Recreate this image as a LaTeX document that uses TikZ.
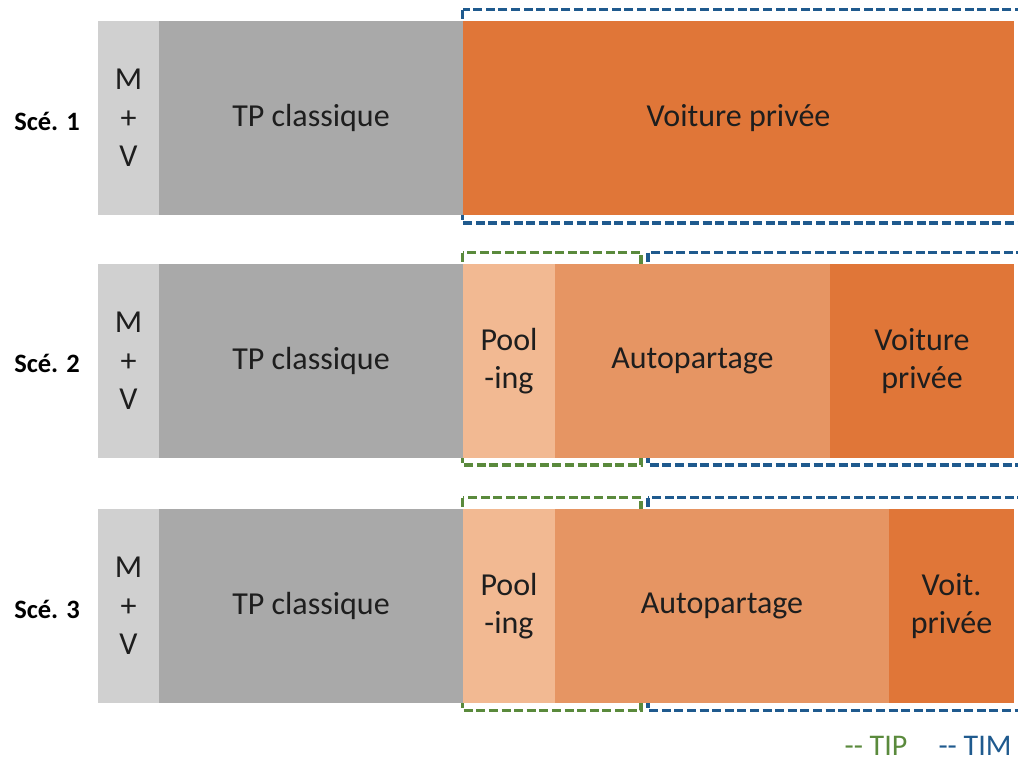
\documentclass[tikz,border=0pt]{standalone}
\usepackage{fontspec}
\setmainfont{Carlito}
\definecolor{mvgrey}{HTML}{D0D0D0}
\definecolor{tpgrey}{HTML}{A9A9A9}
\definecolor{vporange}{HTML}{E07638}
\definecolor{aporange}{HTML}{E69563}
\definecolor{poolorange}{HTML}{F2B992}
\definecolor{timblue}{HTML}{1F5A8E}
\definecolor{tipgreen}{HTML}{5A8A3C}
\definecolor{txt}{HTML}{1E1E1E}
\begin{document}
\begin{tikzpicture}[x=1pt,y=-1pt,
  bar/.style={rectangle, inner sep=0pt, outer sep=0pt, anchor=north west,
    minimum height=194pt, text=txt, align=center,
    font=\fontsize{32}{38.5}\selectfont},
  rowlab/.style={font=\fontsize{26.5}{30}\selectfont\bfseries, text=black, anchor=base},
  legtext/.style={font=\fontsize{30}{34}\selectfont, anchor=base, inner sep=0pt},
  tipbox/.style={draw=tipgreen, line width=3.4pt, dash pattern=on 9pt off 3.6pt},
  timbox/.style={draw=timblue, line width=3.4pt, dash pattern=on 9pt off 3.6pt}]
\useasboundingbox (0,0) rectangle (1018,764);

% Dashed groupings (behind the bars)
\begin{scope}
\clip (0,0) rectangle (1018,764);
\draw[timbox] (462.5,9.5) rectangle (1040,223);
\draw[tipbox] (462.5,252.5) rectangle (641,465);
\draw[timbox] (648,252.5) rectangle (1040,465);
\draw[tipbox] (462.5,497.5) rectangle (641,710.5);
\draw[timbox] (648,497.5) rectangle (1040,710.5);
\end{scope}

% Row 1
\node[bar, fill=mvgrey, minimum width=61pt] (mv1) at (98,21) {M\\+\\V};
\node[bar, fill=tpgrey, minimum width=304pt] (tp1) at (159,21) {TP classique};
\node[bar, fill=vporange, minimum width=551pt] (vp1) at (463,21) {Voiture privée};
\node[rowlab] (s1) at (47,130) {Scé. 1};

% Row 2
\node[bar, fill=mvgrey, minimum width=61pt] (mv2) at (98,264) {M\\+\\V};
\node[bar, fill=tpgrey, minimum width=304pt] (tp2) at (159,264) {TP classique};
\node[bar, fill=poolorange, minimum width=92pt] (po2) at (463,264) {Pool\\-ing};
\node[bar, fill=aporange, minimum width=275pt] (ap2) at (555,264) {Autopartage};
\node[bar, fill=vporange, minimum width=184pt] (vp2) at (830,264) {Voiture\\privée};
\node[rowlab] (s2) at (47,372.5) {Scé. 2};

% Row 3
\node[bar, fill=mvgrey, minimum width=61pt] (mv3) at (98,509) {M\\+\\V};
\node[bar, fill=tpgrey, minimum width=304pt] (tp3) at (159,509) {TP classique};
\node[bar, fill=poolorange, minimum width=92pt] (po3) at (463,509) {Pool\\-ing};
\node[bar, fill=aporange, minimum width=334pt] (ap3) at (555,509) {Autopartage};
\node[bar, fill=vporange, minimum width=125pt] (vp3) at (889,509) {Voit.\\privée};
\node[rowlab] (s3) at (47,618) {Scé. 3};

% Legend
\node[legtext, text=tipgreen] (ltip) at (876,755) {{-}{-} TIP};
\node[legtext, text=timblue] (ltim) at (975,755) {{-}{-} TIM};
\end{tikzpicture}
\end{document}
